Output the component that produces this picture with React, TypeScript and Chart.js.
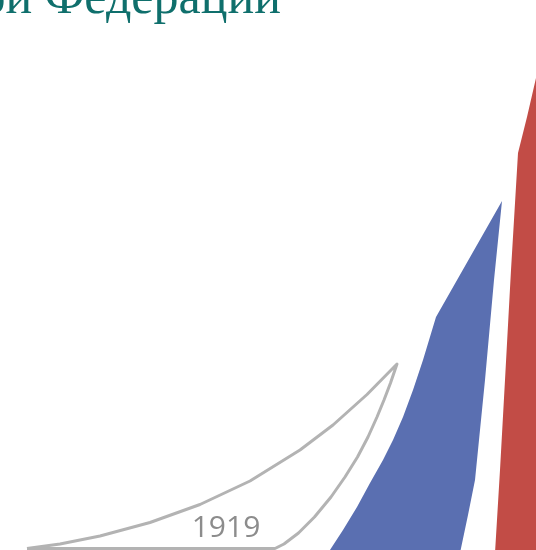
import React, { useEffect, useRef } from "react";
import { Chart, registerables } from "chart.js";

Chart.register(...registerables);

// Outline of the white (year) sail
const whiteX = [27, 60, 100, 150, 200, 250, 300, 333, 367, 397, 390.5, 384, 377, 368, 357.5, 345, 331, 314.5, 298.5, 284, 275, 27];
const whiteY = [548.5, 544, 536, 522.5, 504.5, 481, 450, 425, 394.5, 364, 383, 400, 417, 437, 457, 477, 497, 517, 533, 544, 548.5, 548.5];

// Blue band
const blueX = [502, 436, 423, 413, 403, 393, 383, 370, 357, 343, 328, 460, 468, 475, 480, 485, 494, 502];
const blueY = [201, 317, 360, 390, 417, 440, 460, 483, 507, 530, 553, 553, 515, 480, 430, 380, 280, 201];

// Red band
const redX = [518, 527, 536, 545, 545, 495, 500, 505, 511, 518];
const redY = [153, 117, 78, 40, 553, 553, 470, 380, 270, 153];

const yearLabels = ["1919"];
const yearX = [226];
const yearY = [537];

const titleText = "ой Федерации";

const toPts = (xs: number[], ys: number[]) => xs.map((x, i) => ({ x, y: ys[i] }));

const labelPlugin = {
  id: "yearLabels",
  afterDatasetsDraw(chart: any) {
    const { ctx, scales } = chart;
    ctx.save();
    ctx.font = '30px "Open Sans", sans-serif';
    ctx.fillStyle = "#8c8c8c";
    ctx.textAlign = "center";
    ctx.textBaseline = "alphabetic";
    yearLabels.forEach((t, i) => {
      ctx.fillText(t, scales.x.getPixelForValue(yearX[i]), scales.y.getPixelForValue(yearY[i]));
    });
    ctx.restore();
  },
};

export default function App() {
  const ref = useRef<HTMLCanvasElement | null>(null);
  useEffect(() => {
    if (!ref.current) return;
    const common = { showLine: true, fill: "shape", pointRadius: 0, tension: 0, clip: false as any };
    const chart = new Chart(ref.current, {
      type: "scatter",
      data: {
        datasets: [
          { ...common, data: toPts(redX, redY), backgroundColor: "#c24c46", borderColor: "#c24c46", borderWidth: 0 },
          { ...common, data: toPts(blueX, blueY), backgroundColor: "#5a6fb1", borderColor: "#5a6fb1", borderWidth: 0 },
          {
            ...common,
            data: toPts(whiteX, whiteY),
            backgroundColor: "#ffffff",
            borderColor: "#b3b3b3",
            borderWidth: 3,
            borderJoinStyle: "round",
          },
        ] as any,
      },
      options: {
        responsive: false,
        animation: false,
        layout: { padding: 0 },
        plugins: { legend: { display: false }, tooltip: { enabled: false }, title: { display: false } },
        scales: {
          x: { type: "linear", min: 0, max: 536, display: false },
          y: { type: "linear", min: 0, max: 550, reverse: true, display: false },
        },
      },
      plugins: [labelPlugin],
    });
    return () => chart.destroy();
  }, []);

  return (
    <div style={{ position: "fixed", left: 0, top: 0, width: 536, height: 550, overflow: "hidden", background: "#fff" }}>
      <canvas ref={ref} width={536} height={550} style={{ position: "absolute", left: 0, top: 0 }} />
      <div
        style={{
          position: "absolute",
          right: 536 - 281,
          top: -29,
          whiteSpace: "nowrap",
          fontFamily: '"Liberation Serif", "Times New Roman", serif',
          fontSize: 50,
          lineHeight: 1,
          color: "#0f6f6c",
        }}
      >
        {titleText}
      </div>
    </div>
  );
}
